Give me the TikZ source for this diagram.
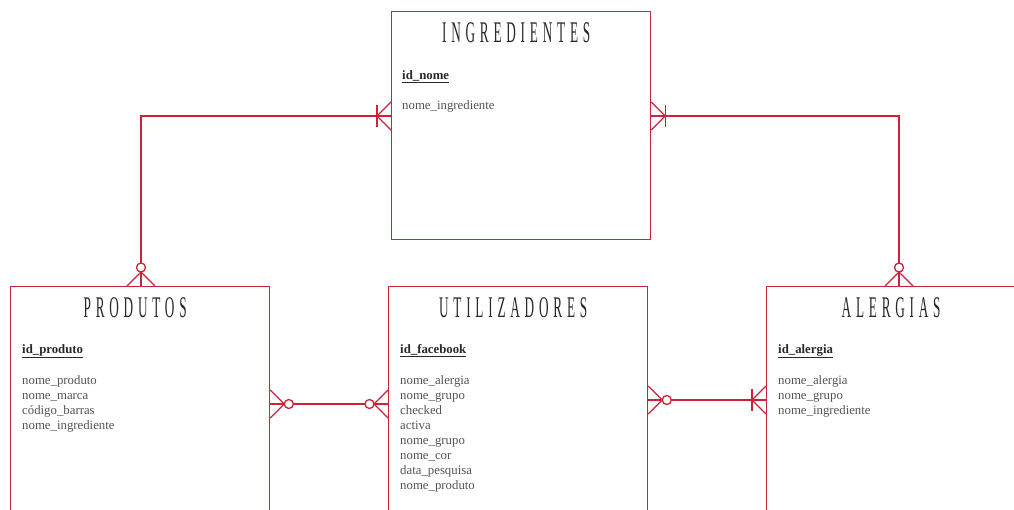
\documentclass[tikz,border=0pt]{standalone}
\usepackage{fontspec}
\setmainfont{Liberation Serif}
\newfontfamily\titlefont[FakeStretch=0.44,LetterSpace=16]{Liberation Serif}
\usetikzlibrary{calc}

\begin{document}
\begin{tikzpicture}[
  x=1pt, y=-1pt,
  font=\fontsize{12.8}{15}\selectfont,
  entity/.style={draw=erred, line width=1.3pt, rectangle, anchor=north west,
    minimum width=259pt, inner sep=0pt},
  rel/.style={draw=erred, line width=1.3pt},
  title/.style={anchor=base, text=ink, font=\titlefont\fontsize{30}{30}\selectfont},
  key/.style={anchor=base west, inner sep=0pt, text=ink,
    font=\bfseries\fontsize{12.8}{15}\selectfont},
  attr/.style={anchor=base west, inner sep=0pt, text=ink!80},
  manyone/.pic={
    \draw[rel] (0,14) -- (14,0) -- (0,-14);
    \draw[rel] (14,-11) -- (14,11);
  },
  manyzero/.pic={
    \draw[rel] (0,14) -- (14,0) -- (0,-14);
    \draw[rel,fill=white] (18.5,0) circle (4.5);
  }
]

\definecolor{erred}{RGB}{204,34,58}
\definecolor{ink}{RGB}{40,40,40}

\useasboundingbox (0,0) rectangle (1014,509);
\clip (0,0) rectangle (1014,509);

% entities
\node[entity, minimum height=228pt] (ingr) at (391,11) {};
\node[entity, minimum height=240pt] (prod) at (10,286) {};
\node[entity, minimum height=240pt] (util) at (388,286) {};
\node[entity, minimum height=240pt] (alerg) at (766,286) {};

% titles
\node[title] (ingr-t) at ($(ingr.north)+(-5,31)$) {INGREDIENTES};
\node[title] (prod-t) at ($(prod.north)+(-5,31)$) {PRODUTOS};
\node[title] (util-t) at ($(util.north)+(-5,31)$) {UTILIZADORES};
\node[title] (alerg-t) at ($(alerg.north)+(-5,31)$) {ALERGIAS};

% keys
\node[key] (ingr-k) at ($(ingr.north west)+(11,68)$) {\underline{id\_nome}};
\node[key] (prod-k) at ($(prod.north west)+(12,67)$) {\underline{id\_produto}};
\node[key] (util-k) at ($(util.north west)+(12,67)$) {\underline{id\_facebook}};
\node[key] (alerg-k) at ($(alerg.north west)+(12,67)$) {\underline{id\_alergia}};

% attributes
\node[attr] (ingr-a1) at ($(ingr.north west)+(11,98)$) {nome\_ingrediente};
\foreach \t [count=\i] in {nome\_produto,nome\_marca,código\_barras,nome\_ingrediente}
  \node[attr] (prod-a\i) at ($(prod.north west)+(12,83+15*\i)$) {\t};
\foreach \t [count=\i] in {nome\_alergia,nome\_grupo,checked,activa,nome\_grupo,
    nome\_cor,data\_pesquisa,nome\_produto}
  \node[attr] (util-a\i) at ($(util.north west)+(12,83+15*\i)$) {\t};
\foreach \t [count=\i] in {nome\_alergia,nome\_grupo,nome\_ingrediente}
  \node[attr] (alerg-a\i) at ($(alerg.north west)+(12,83+15*\i)$) {\t};

% link points
\coordinate (ingr-l) at ($(ingr.north west)+(0,105)$);
\coordinate (ingr-r) at ($(ingr.north east)+(0,105)$);
\coordinate (prod-u) at ($(prod.north west)+(131,0)$);
\coordinate (alerg-u) at ($(alerg.north west)+(133,0)$);
\coordinate (prod-r) at ($(prod.north east)+(0,118)$);
\coordinate (util-l) at ($(util.north west)+(0,118)$);
\coordinate (util-r) at ($(util.north east)+(0,114)$);
\coordinate (alerg-l) at ($(alerg.north west)+(0,114)$);

% relations
\draw[rel] (prod-u) |- (ingr-l);
\draw[rel] (alerg-u) |- (ingr-r);
\draw[rel] (prod-r) -- (util-l);
\draw[rel] (util-r) -- (alerg-l);

\pic[rotate=180] at (ingr-l) {manyone};
\pic at (ingr-r) {manyone};
\pic[rotate=90] at (prod-u) {manyzero};
\pic[rotate=90] at (alerg-u) {manyzero};
\pic at (prod-r) {manyzero};
\pic[rotate=180] at (util-l) {manyzero};
\pic at (util-r) {manyzero};
\pic[rotate=180] at (alerg-l) {manyone};

\end{tikzpicture}
\end{document}
